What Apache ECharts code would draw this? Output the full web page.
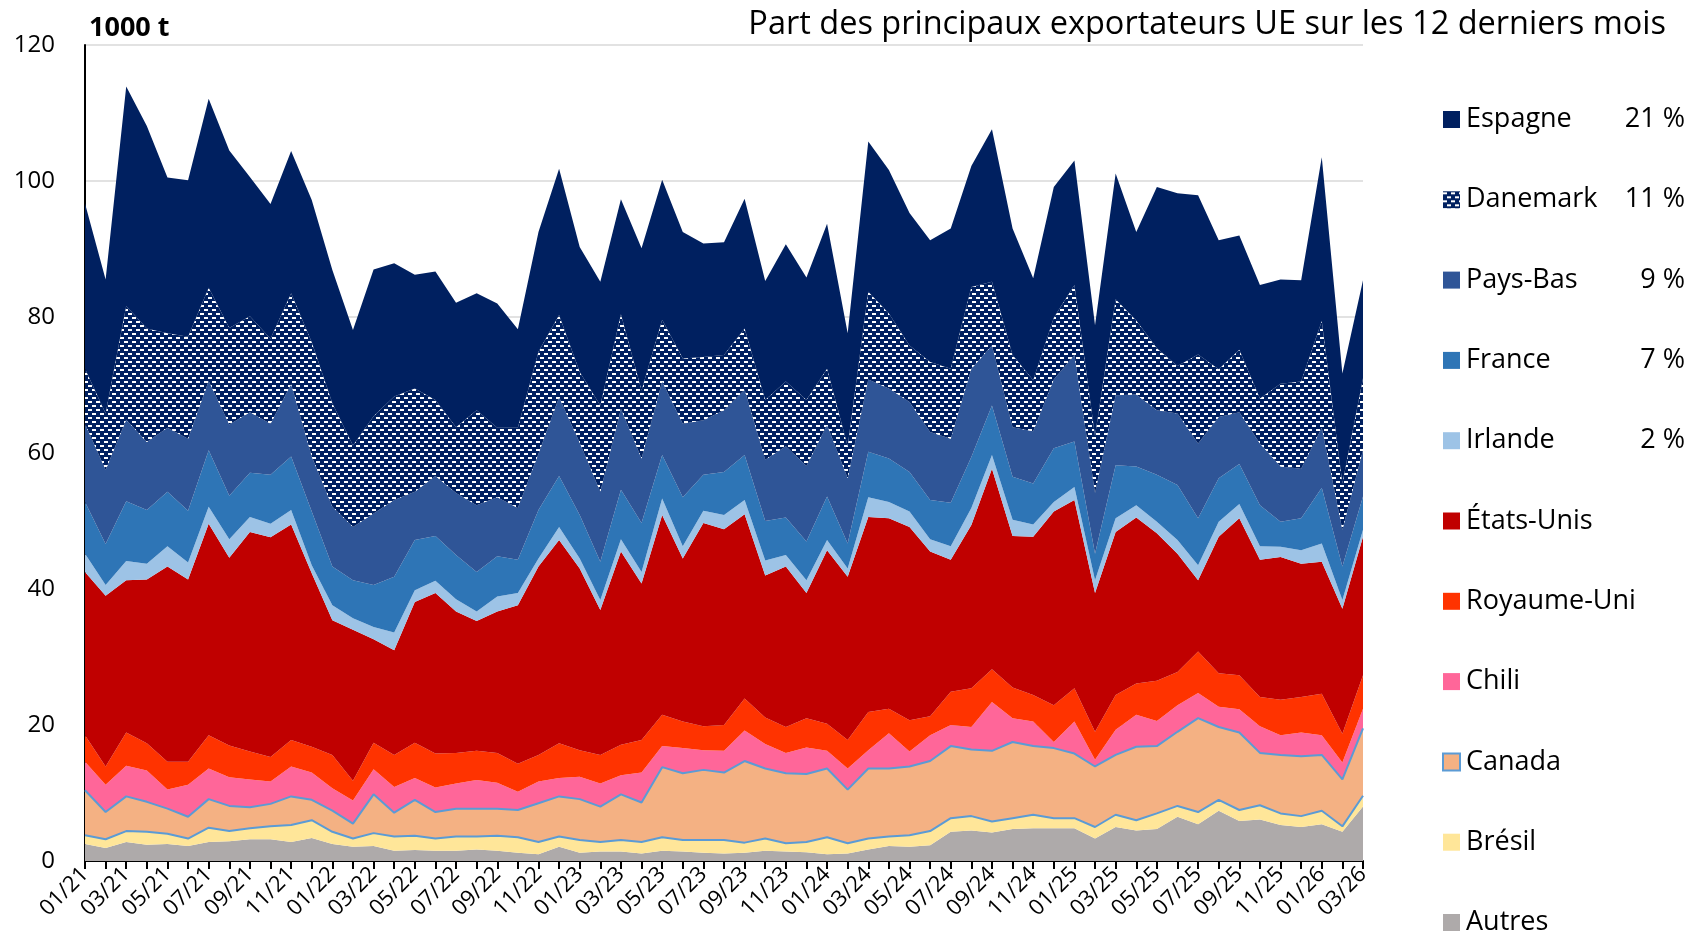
<!DOCTYPE html>
<html>
<head>
<meta charset="utf-8">
<title>Exportateurs</title>
<script src="https://cdn.jsdelivr.net/npm/echarts@6/dist/echarts.min.js"></script>
<style>
    html, body { margin: 0; padding: 0; background: #fff; }
    #chart { width: 1688px; height: 941px; }
</style>
</head>
<body>
<div id="chart"></div>
<script>
var months = ['01/21','02/21','03/21','04/21','05/21','06/21','07/21','08/21','09/21','10/21','11/21','12/21',
    '01/22','02/22','03/22','04/22','05/22','06/22','07/22','08/22','09/22','10/22','11/22','12/22',
    '01/23','02/23','03/23','04/23','05/23','06/23','07/23','08/23','09/23','10/23','11/23','12/23',
    '01/24','02/24','03/24','04/24','05/24','06/24','07/24','08/24','09/24','10/24','11/24','12/24',
    '01/25','02/25','03/25','04/25','05/25','06/25','07/25','08/25','09/25','10/25','11/25','12/25',
    '01/26','02/26','03/26']

// 1000 t par pays, de bas en haut de l'empilement
var autres = [2.5,1.9,2.8,2.4,2.5,2.2,2.8,2.9,3.2,3.2,2.8,3.4,2.5,2.1,2.2,1.5,1.6,1.5,1.5,1.7,1.5,1.2,1.0,2.1,1.2,1.4,1.4,1.1,1.5,1.4,1.2,1.1,1.2,1.5,1.4,1.3,1.0,1.1,1.7,2.2,2.1,2.3,4.3,4.5,4.2,4.7,4.8,4.8,4.8,3.3,5.0,4.5,4.7,6.5,5.4,7.4,5.9,6.1,5.3,5.0,5.4,4.3,8.0]
var bresil = [1.3,1.3,1.6,1.9,1.5,1.1,2.1,1.5,1.6,1.9,2.5,2.6,1.8,1.2,1.9,2.1,2.1,1.8,2.1,1.9,2.2,2.3,1.8,1.5,1.9,1.4,1.7,1.7,2.0,1.7,1.9,2.0,1.5,1.8,1.2,1.5,2.5,1.5,1.6,1.4,1.7,2.1,2.0,2.1,1.6,1.6,2.0,1.5,1.5,1.7,1.8,1.5,2.3,1.6,1.8,1.6,1.6,2.1,1.7,1.6,2.0,0.8,1.6]
var canada = [6.6,4.0,5.1,4.4,3.7,3.2,4.2,3.7,3.1,3.3,4.2,3.0,3.1,2.2,5.7,3.5,5.3,3.9,4.1,4.1,4.0,4.0,5.7,5.9,6.0,5.2,6.7,5.8,10.3,9.8,10.3,9.9,12.0,10.3,10.3,10.0,10.1,7.9,10.3,10.0,10.1,10.3,10.6,9.8,10.4,11.2,10.1,10.3,9.5,8.9,8.8,10.8,9.9,10.9,13.8,10.7,11.4,7.7,8.6,8.8,8.2,6.9,9.9]
var chili = [4.2,4.0,4.5,4.6,2.8,4.7,4.5,4.2,4.1,3.3,4.4,4.0,3.3,3.4,3.7,3.8,3.2,3.6,3.7,4.2,3.8,2.7,3.2,2.7,3.3,3.4,2.8,4.4,3.1,3.7,2.9,3.2,4.5,3.6,3.0,3.9,2.6,3.1,2.7,5.2,2.2,3.8,3.1,3.3,7.2,3.5,3.6,0.9,4.7,1.0,3.7,4.7,3.7,3.9,3.7,3.0,3.4,3.9,2.9,3.5,2.9,2.5,2.9]
var royaumeUni = [3.9,2.7,4.9,4.0,4.1,3.4,4.9,4.7,4.1,3.6,3.9,3.8,4.9,2.9,3.9,4.7,5.2,5.0,4.5,4.3,4.4,4.1,3.9,5.1,3.9,4.2,4.5,4.8,4.6,3.9,3.5,3.8,4.7,3.9,3.8,4.3,4.0,4.2,5.6,3.6,4.6,2.8,4.9,5.7,4.8,4.5,3.9,5.4,4.9,4.1,5.1,4.6,5.9,4.9,6.1,4.9,5.0,4.3,5.2,5.2,6.1,4.2,4.9]
var etatsUnis = [24.0,25.1,22.4,24.1,28.7,26.8,31.1,27.6,32.3,32.3,31.7,25.5,19.8,22.2,15.2,15.4,20.7,23.6,20.8,19.1,20.8,23.3,27.7,29.9,26.7,21.3,28.4,23.0,29.4,24.0,29.9,28.8,27.1,20.9,23.6,18.4,25.5,24.0,28.7,28.0,28.4,24.2,19.4,24.0,29.5,22.3,23.3,28.5,27.7,20.4,24.0,24.4,21.7,17.4,10.5,20.1,23.1,20.2,21.0,19.6,19.4,18.4,20.4]
var irlande = [2.7,1.6,2.8,2.3,3.0,2.5,2.5,2.7,2.2,2.0,2.1,1.2,2.2,1.7,1.8,2.6,1.7,1.8,1.8,1.4,2.2,1.8,1.2,1.9,1.5,1.5,1.8,1.7,2.4,1.8,1.8,2.1,2.1,2.2,1.7,1.9,1.5,1.2,2.9,2.4,2.3,1.8,2.0,2.5,2.0,2.4,1.8,1.4,1.9,1.9,2.0,1.8,1.7,2.0,2.2,2.2,2.1,2.0,1.5,2.0,2.7,1.3,1.0]
var france = [7.6,6.0,8.8,7.9,8.0,7.6,8.3,6.4,6.5,7.2,7.9,7.9,5.7,5.6,6.2,8.2,7.4,6.6,6.5,5.8,5.9,4.9,7.1,7.5,6.4,5.6,7.3,7.2,6.4,7.2,5.3,6.3,6.6,5.8,5.5,5.7,6.4,3.7,6.7,6.4,5.8,5.8,6.4,7.5,7.3,6.3,6.0,7.9,6.7,3.9,7.8,5.7,6.9,8.1,6.9,6.4,5.9,6.0,3.7,4.7,8.2,4.9,4.9]
var paysBas = [11.5,10.9,12.0,10.0,9.4,10.6,10.2,10.5,8.9,7.5,10.6,8.1,8.8,7.8,10.5,11.3,7.1,8.8,9.1,9.8,8.7,7.6,8.3,11.6,10.6,10.3,11.9,9.5,10.8,10.8,8.0,9.1,9.6,9.0,10.5,11.1,10.5,9.6,10.6,10.3,10.3,10.0,9.4,13.0,8.8,7.3,7.7,10.1,12.7,8.9,10.3,10.6,9.5,10.5,11.0,9.0,7.6,9.1,8.1,7.3,8.8,5.4,6.8]
var danemark = [8.1,8.3,16.7,16.7,13.9,15.0,13.7,14.2,14.1,12.5,13.4,16.8,15.2,12.0,14.3,15.2,15.2,11.2,9.7,14.0,10.2,11.8,15.0,12.1,10.4,12.7,13.9,10.0,9.1,9.6,9.3,8.1,9.0,8.8,9.5,9.7,8.3,4.7,12.9,11.0,8.3,10.3,10.3,12.0,9.4,10.6,7.5,9.1,10.3,8.4,14.1,10.9,9.1,7.0,13.1,7.0,9.2,6.6,12.2,12.8,15.7,6.8,10.6]
var espagne = [24.3,19.7,32.3,29.8,22.9,23.0,27.8,26.1,20.5,19.8,20.9,20.9,19.6,17.0,21.6,19.6,16.7,18.9,18.3,17.2,18.3,14.5,17.6,21.5,18.4,18.2,16.9,20.9,20.6,18.6,16.7,16.6,19.1,17.5,20.2,18.0,21.3,16.6,22.1,21.1,19.5,17.9,20.6,17.8,22.4,18.6,15.0,19.2,18.3,16.3,18.5,13.0,23.7,25.4,23.4,19.0,16.8,16.7,15.3,14.9,24.1,16.2,14.4]

// légende, de haut en bas
var legendNames = ['Espagne','Danemark','Pays-Bas','France','Irlande','États-Unis','Royaume-Uni','Chili','Canada','Brésil','Autres']
var sharePct = ['21 %','11 %','9 %','7 %','2 %','','','','','','']

var FONT = 'Open Sans'

// motif du Danemark : tirets blancs sur fond marine
function hatch() {
    var c = document.createElement('canvas')
    c.width = 8
    c.height = 8
    var ctx = c.getContext('2d')
    ctx.fillStyle = '#002060'
    ctx.fillRect(0, 0, 8, 8)
    ctx.fillStyle = '#ffffff'
    ctx.fillRect(0, 1, 4, 2)
    ctx.fillRect(4, 5, 4, 2)
    return c
}
var dkPattern = { image: hatch(), repeat: 'repeat' }

function area(name, data, color, opts) {
    opts = opts || {}
    return {
        name: name,
        type: 'line',
        stack: 'total',
        data: data,
        showSymbol: false,
        symbol: 'none',
        color: color,
        z: opts.z || 2,
        lineStyle: opts.line ? { color: opts.line, width: 2 } : { width: 0, opacity: 0 },
        areaStyle: { color: opts.fill || color, opacity: 1 },
        emphasis: { disabled: true }
    }
}

var myChart = echarts.init(document.getElementById('chart'))

var option = {
    animation: false,
    backgroundColor: '#ffffff',
    textStyle: { fontFamily: FONT },
    title: [{
        text: '1000 t',
        left: 84,
        top: 10,
        textStyle: { fontFamily: FONT, fontSize: 27, fontWeight: 'bold', color: '#000' }
    }, {
        text: 'Part des principaux exportateurs UE sur les 12 derniers mois',
        right: 17,
        top: 3,
        textStyle: { fontFamily: FONT, fontSize: 32.5, fontWeight: 'normal', color: '#000' }
    }],
    grid: { left: 85, right: 325, top: 45, bottom: 80, containLabel: false },
    legend: {
        orient: 'vertical',
        left: 1442,
        top: 106,
        padding: 0,
        itemWidth: 17,
        itemHeight: 17,
        itemGap: 53.3,
        icon: 'rect',
        data: legendNames.map(function (n) {
            if (n === 'Danemark') return { name: n, itemStyle: { color: dkPattern } }
            if (n === 'Canada') return { name: n, itemStyle: { color: '#f4b183', borderColor: '#5b9bd5', borderWidth: 2 } }
            return { name: n }
        }),
        formatter: function (name) {
            var k = legendNames.indexOf(name)
            return '{n|' + name + '}{p|' + sharePct[k] + '}'
        },
        textStyle: {
            fontFamily: FONT,
            fontSize: 27,
            lineHeight: 27,
            color: '#000',
            rich: {
                n: { fontFamily: FONT, fontSize: 27, width: 142, padding: [0, 0, 0, 1], color: '#000' },
                p: { fontFamily: FONT, fontSize: 27, width: 77, align: 'right', color: '#000' }
            }
        }
    },
    xAxis: {
        type: 'category',
        boundaryGap: false,
        data: months,
        axisLine: { lineStyle: { color: '#000', width: 2 } },
        axisTick: { show: true, interval: 0, length: 8, lineStyle: { color: '#000', width: 2 } },
        axisLabel: { interval: 1, rotate: 45, margin: 10, fontFamily: FONT, fontSize: 22, color: '#000' },
        splitLine: { show: false }
    },
    yAxis: {
        type: 'value',
        min: 0,
        max: 120,
        interval: 20,
        axisLine: { show: true, lineStyle: { color: '#000', width: 2 } },
        axisTick: { show: false },
        axisLabel: { margin: 30, fontFamily: FONT, fontSize: 24, color: '#000' },
        splitLine: { lineStyle: { color: '#d9d9d9', width: 1.5 } }
    },
    series: [
        area('Autres', autres, '#aeaaaa'),
        area('Brésil', bresil, '#ffe699', { line: '#5b9bd5', z: 3 }),
        area('Canada', canada, '#f4b183', { line: '#5b9bd5', z: 3 }),
        area('Chili', chili, '#ff6699'),
        area('Royaume-Uni', royaumeUni, '#ff3300'),
        area('États-Unis', etatsUnis, '#c00000'),
        area('Irlande', irlande, '#9dc3e6'),
        area('France', france, '#2e75b6'),
        area('Pays-Bas', paysBas, '#2f5597'),
        area('Danemark', danemark, '#002060', { fill: dkPattern }),
        area('Espagne', espagne, '#002060')
    ]
}
option && myChart.setOption(option)
</script>
</body>
</html>
